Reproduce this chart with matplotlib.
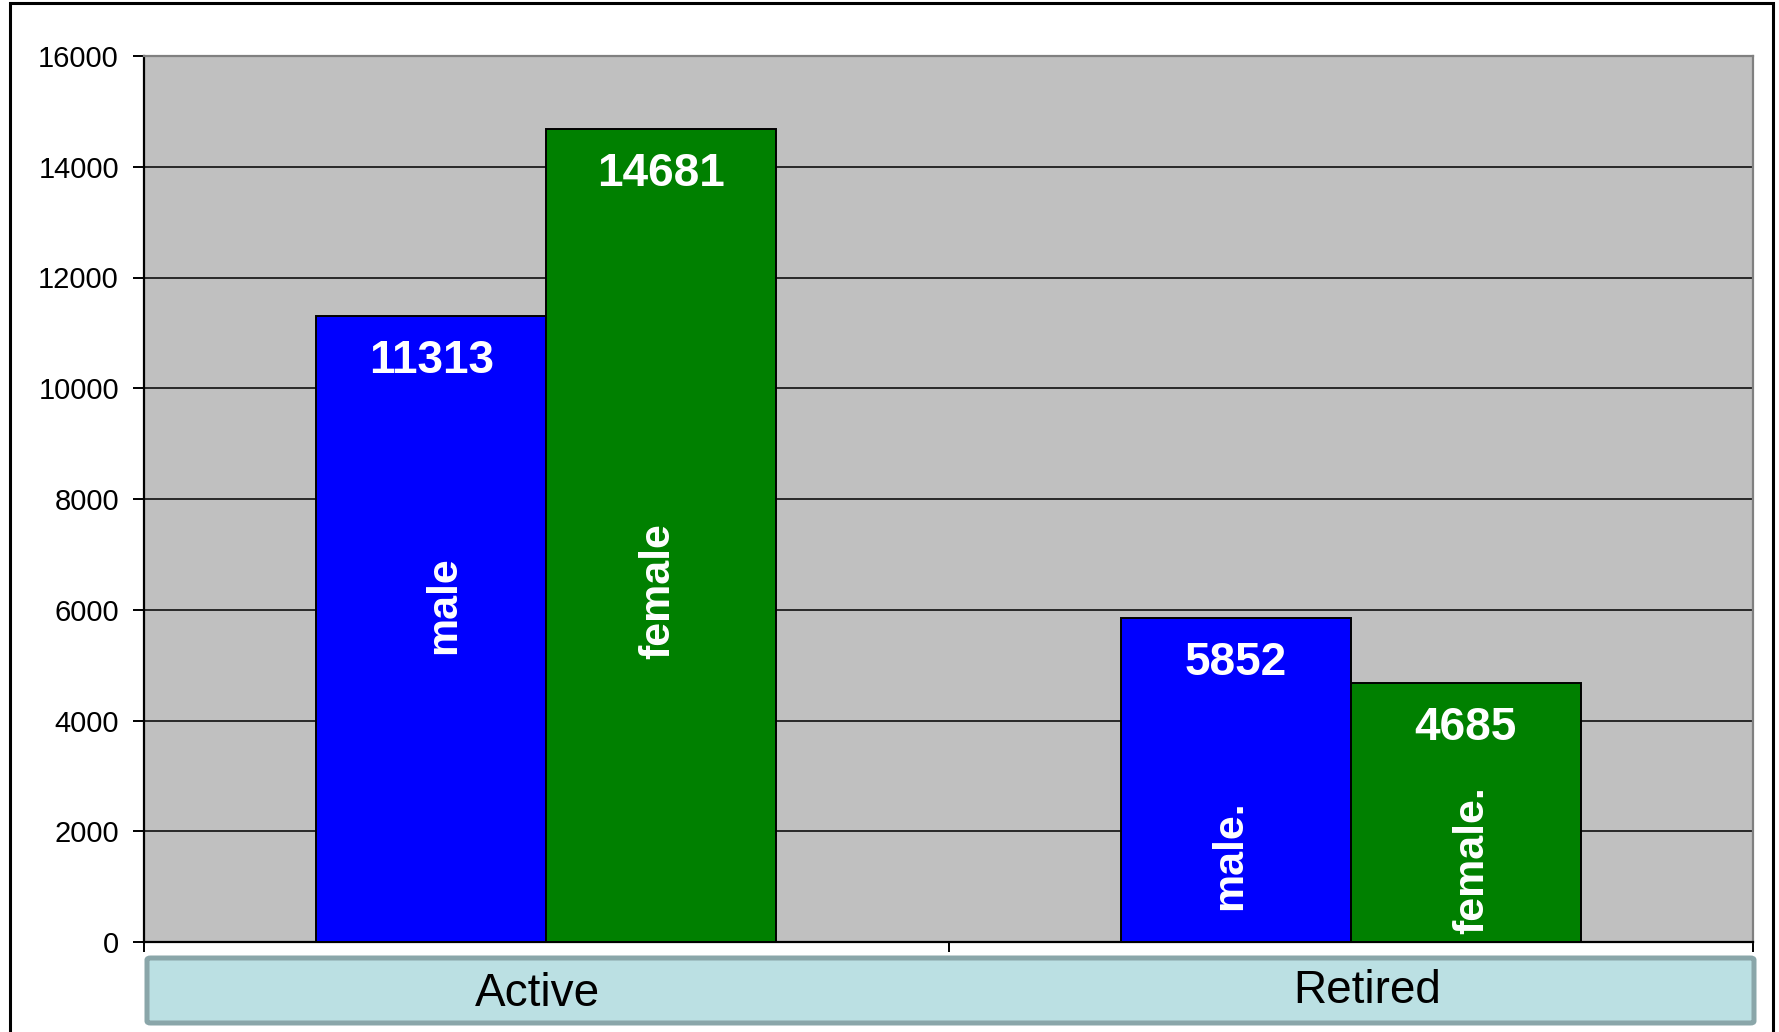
import matplotlib
matplotlib.use("Agg")
import matplotlib.pyplot as plt
from matplotlib.patches import Rectangle, FancyBboxPatch
import matplotlib.transforms as mtransforms

plt.rcParams['font.family'] = ['Liberation Sans', 'DejaVu Sans']

categories = ["Active", "Retired"]
male_values = [11313, 5852]
female_values = [14681, 4685]
male_names = ["male", "male."]
female_names = ["female", "female."]
y_ticks = [0, 2000, 4000, 6000, 8000, 10000, 12000, 14000, 16000]

# vertical centre (data units) of the rotated series-name labels
male_name_y = [6080, 1570]
female_name_y = [6339, 1480]
# small horizontal nudges (points) of those labels
male_name_dx = [9, -4]
female_name_dx = [-2.5, 5]

W, H = 1779, 1032
fig = plt.figure(figsize=(W / 100, H / 100), dpi=100)
fig.patch.set_facecolor("white")

ax = fig.add_axes([144 / W, (H - 942) / H, 1609 / W, 886 / H])
ax.set_facecolor("#C0C0C0")

bw = 0.286
xs = list(range(len(categories)))
male_x = [x - bw / 2 for x in xs]
female_x = [x + bw / 2 for x in xs]

ax.set_axisbelow(True)
ax.yaxis.grid(True, color="black", linewidth=1.1)
ax.bar(male_x, male_values, width=bw, color="#0000FF", edgecolor="black", linewidth=1.4, zorder=3)
ax.bar(female_x, female_values, width=bw, color="#008000", edgecolor="black", linewidth=1.4, zorder=3)

for xv, v in zip(male_x + female_x, male_values + female_values):
    ax.annotate(str(v), (xv, v), xytext=(0, -32.5), textcoords="offset points",
                ha="center", va="center", color="white", fontsize=33, fontweight="bold", zorder=5)

for xv, yv, dx, name in zip(male_x + female_x, male_name_y + female_name_y,
                            male_name_dx + female_name_dx, male_names + female_names):
    ax.annotate(name, (xv, yv), xytext=(dx, 0), textcoords="offset points", rotation=90,
                ha="center", va="center", color="white", fontsize=31, fontweight="bold", zorder=5)

ax.set_xlim(-0.5, len(categories) - 0.5)
ax.set_ylim(0, 16000)
ax.set_yticks(y_ticks)
ax.set_yticklabels([str(t) for t in y_ticks])
ax.set_xticks([-0.5, 0.5, 1.5])
ax.set_xticklabels([])
ax.tick_params(axis="y", direction="out", length=8, width=1.4, pad=10, labelsize=21, colors="black")
ax.tick_params(axis="x", direction="out", length=7, width=1.4)

for s in ["left", "bottom"]:
    ax.spines[s].set_color("black")
    ax.spines[s].set_linewidth(1.6)
for s in ["top", "right"]:
    ax.spines[s].set_color("#808080")
    ax.spines[s].set_linewidth(1.6)

# category band
band = FancyBboxPatch((147 / W, 9 / H), (1754 - 147) / W, 65 / H,
                      boxstyle="round,pad=0,rounding_size=0.002",
                      transform=fig.transFigure, facecolor="#BBE0E3", edgecolor="#8AA6A9",
                      linewidth=3.6, zorder=1)
fig.patches.append(band)

trans = mtransforms.blended_transform_factory(ax.transData, fig.transFigure)
cat_offsets = [-0.011, 0.02]
cat_y = [(H - 994) / H, (H - 991) / H]
for x, off, cy, c in zip(xs, cat_offsets, cat_y, categories):
    fig.text(x + off, cy, c, transform=trans, ha="center", va="center", fontsize=33, color="black", zorder=3)

# outer frame (bottom edge runs off the canvas)
frame = Rectangle((10 / W, -10 / H), (1773 - 10) / W, (H - 3 + 10) / H, transform=fig.transFigure,
                  facecolor="none", edgecolor="black", linewidth=2.2, zorder=10)
fig.patches.append(frame)

fig.savefig("out.png", dpi=100, facecolor="white")
